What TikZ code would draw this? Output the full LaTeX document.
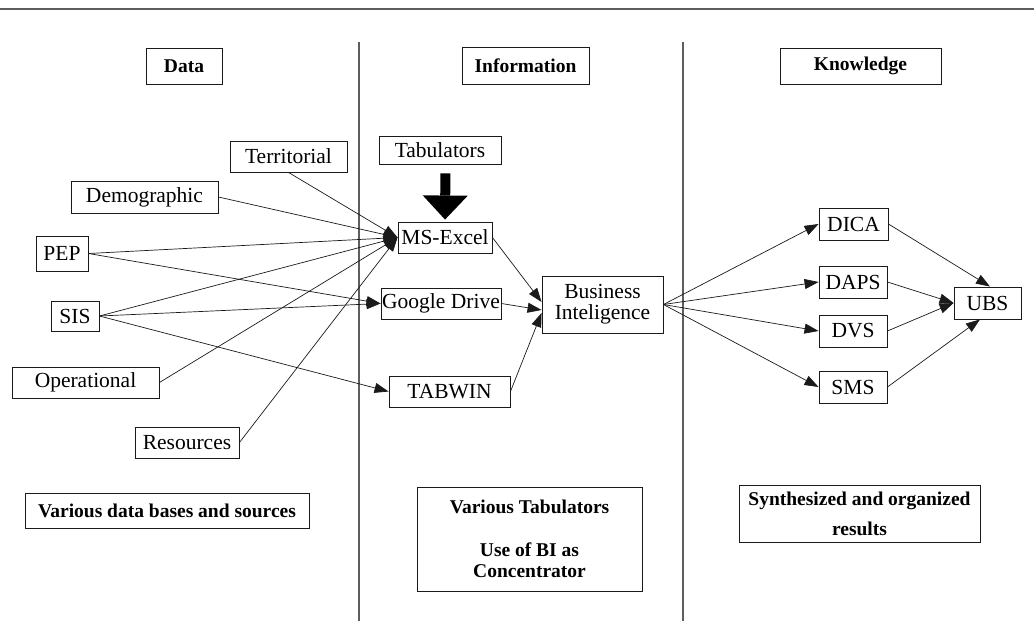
\documentclass[tikz,border=0pt]{standalone}
\usepackage{fontspec}
\setmainfont{Liberation Serif}
\definecolor{dkLine}{HTML}{1A1A1A}
\definecolor{dkRule}{HTML}{5E5E5E}
\usepackage{tikz}
\usetikzlibrary{arrows.meta,positioning}

\begin{document}
\begin{tikzpicture}[x=1pt,y=-1pt,
  every node/.style={font=\fontsize{21.5}{21}\selectfont},
  box/.style={draw=dkLine, line width=0.9pt, inner sep=0pt, align=center},
  head/.style={box, font=\fontsize{19.5}{21}\selectfont\bfseries},
  flow/.style={draw=dkLine, line width=0.7pt, -{Triangle[length=14pt,width=10pt]}},
  fat/.style={draw=black, line width=10pt, -{Triangle[length=24pt,width=45pt,line width=0pt]}}]
  \useasboundingbox (0,0) rectangle (1034,635);

  % Rules
  \draw[dkRule, line width=1.5pt] (0,9) -- (1034,9);
  \draw[dkRule, line width=1.2pt] (359,42) -- (359,621);
  \draw[dkRule, line width=1.2pt] (683,42) -- (683,621);

  % Headers
  \node[head, minimum width=76pt, minimum height=36pt] (data) at (184,66) {Data};
  \node[head, minimum width=127pt, minimum height=37pt] (info) at (525.5,65.5) {Information};
  \node[head, minimum width=161pt, minimum height=36pt] (know) at (860.5,66) {Knowledge};

  % Data sources
  \node[box, minimum width=117pt, minimum height=31pt] (terr) at (288.5,156.5) {Territorial};
  \node[box, minimum width=147pt, minimum height=32pt] (demo) at (144.5,197) {Demographic};
  \node[box, minimum width=52pt, minimum height=35pt] (pep) at (62,253.5) {PEP};
  \node[box, minimum width=48pt, minimum height=30pt] (sis) at (75,316) {SIS};
  \node[box, minimum width=147pt, minimum height=31pt] (oper) at (85.5,382.5) {Operational};
  \node[box, minimum width=104pt, minimum height=31pt] (reso) at (187,442.5) {Resources};

  % Tabulators
  \node[box, minimum width=122pt, minimum height=28pt] (tabul) at (440,150) {Tabulators};
  \node[box, minimum width=94pt, minimum height=31pt] (excel) at (445,237.5) {MS-Excel};
  \node[box, minimum width=120pt, minimum height=31pt] (gdrive) at (441,303.5) {Google Drive};
  \node[box, minimum width=121pt, minimum height=31pt] (tabwin) at (449.5,391.5) {TABWIN};
  \node[box, minimum width=121pt, minimum height=57pt] (bi) at (602.5,304.5) {Business\\Inteligence};

  % Results
  \node[box, minimum width=69pt, minimum height=32pt] (dica) at (853.5,224) {DICA};
  \node[box, minimum width=68pt, minimum height=32pt] (daps) at (853,282) {DAPS};
  \node[box, minimum width=68pt, minimum height=32pt] (dvs) at (853,331) {DVS};
  \node[box, minimum width=68pt, minimum height=32pt] (sms) at (853,387) {SMS};
  \node[box, minimum width=67pt, minimum height=32pt] (ubs) at (987.5,303) {UBS};

  % Notes
  \node[head, minimum width=284pt, minimum height=35pt] (srcnote) at (167,510.5) {Various data bases and sources};
  \node[head, minimum width=225pt, minimum height=104pt] (tabnote) at (529.5,539) {Various Tabulators\\[22pt]Use of BI as\\Concentrator};
  \node[head, minimum width=241pt, minimum height=57pt] (resnote) at (859.5,513.5) {Synthesized and organized\\[9pt]results};

  % Connectors
  \draw[fat, shorten <=9pt, shorten >=2pt] ([xshift=5.5pt]tabul.south) -- (excel.north);
  \draw[flow] (terr.south) -- (excel.west);
  \draw[flow] (demo.east) -- (excel.west);
  \draw[flow] (pep.east) -- (excel.west);
  \draw[flow] (pep.east) -- (gdrive.west);
  \draw[flow] (sis.east) -- (excel.west);
  \draw[flow] (sis.east) -- (gdrive.west);
  \draw[flow] (sis.east) -- (tabwin.west);
  \draw[flow] (oper.east) -- (excel.west);
  \draw[flow] (reso.east) -- (excel.west);

  \draw[flow] (excel.east) -- ([yshift=2.5pt]bi.west);
  \draw[flow] (gdrive.east) -- ([yshift=-5.5pt]bi.west);
  \draw[flow] (tabwin.east) -- ([yshift=-8.5pt]bi.west);

  \draw[flow] (bi.east) -- (dica.west);
  \draw[flow] (bi.east) -- (daps.west);
  \draw[flow] (bi.east) -- (dvs.west);
  \draw[flow] (bi.east) -- (sms.west);

  \draw[flow] (dica.east) -- ([xshift=2.5pt]ubs.north);
  \draw[flow] (daps.east) -- (ubs.west);
  \draw[flow] (dvs.east) -- (ubs.west);
  \draw[flow] (sms.east) -- ([xshift=-7.5pt]ubs.south);
\end{tikzpicture}
\end{document}
